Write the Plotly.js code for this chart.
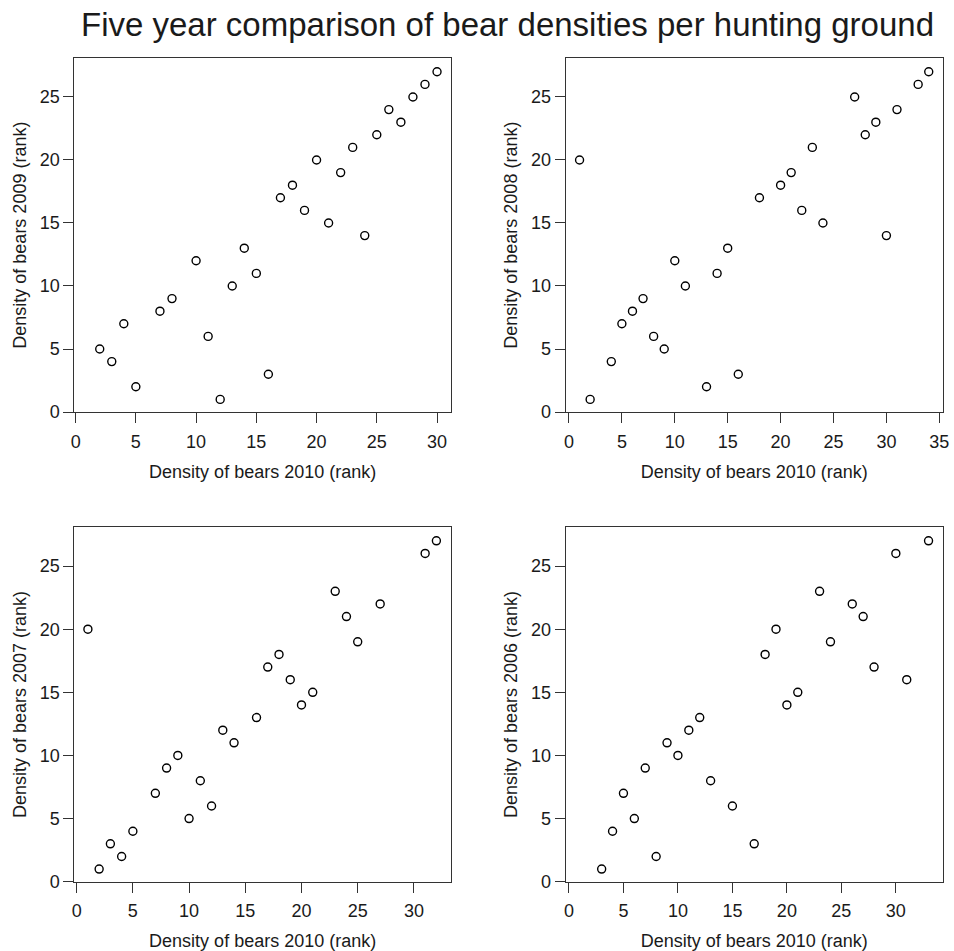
<!DOCTYPE html>
<html>
<head>
<meta charset="utf-8">
<script src="https://cdn.plot.ly/plotly-3.0.1.min.js"></script>
<style>html,body{margin:0;padding:0;background:#fff;}#chart{width:954px;height:951px;}</style>
</head>
<body>
<div id="chart"></div>
<script>
// Density ranks, 2010 (x) vs each earlier year (y)
const x2010_vs2009 = [2,3,4,5,7,8,10,11,12,13,14,15,16,17,18,19,20,21,22,23,24,25,26,27,28,29,30];
const y2009 = [5,4,7,2,8,9,12,6,1,10,13,11,3,17,18,16,20,15,19,21,14,22,24,23,25,26,27];

const x2010_vs2008 = [1,2,4,5,6,7,8,9,10,11,13,14,15,16,18,20,21,22,23,24,27,28,29,30,31,33,34];
const y2008 = [20,1,4,7,8,9,6,5,12,10,2,11,13,3,17,18,19,16,21,15,25,22,23,14,24,26,27];

const x2010_vs2007 = [1,2,3,4,5,7,8,9,10,11,12,13,14,16,17,18,19,20,21,23,24,25,27,31,32];
const y2007 = [20,1,3,2,4,7,9,10,5,8,6,12,11,13,17,18,16,14,15,23,21,19,22,26,27];

const x2010_vs2006 = [3,4,5,6,7,8,9,10,11,12,13,15,17,18,19,20,21,23,24,26,27,28,30,31,33];
const y2006 = [1,4,7,5,9,2,11,10,12,13,8,6,3,18,20,14,15,23,19,22,21,17,26,16,27];

const xTitle = "Density of bears 2010 (rank)";
const yTitles = ["Density of bears 2009 (rank)", "Density of bears 2008 (rank)",
                 "Density of bears 2007 (rank)", "Density of bears 2006 (rank)"];
const chartTitle = "Five year comparison of bear densities per hunting ground";

const FONT = '"Liberation Sans", Arial, Helvetica, sans-serif';
const INK = '#1a1a1a';

const pairs = [[x2010_vs2009, y2009], [x2010_vs2008, y2008], [x2010_vs2007, y2007], [x2010_vs2006, y2006]];
const traces = pairs.map((p, i) => ({
  type: 'scatter', mode: 'markers',
  x: p[0], y: p[1],
  xaxis: i === 0 ? 'x' : 'x' + (i + 1),
  yaxis: i === 0 ? 'y' : 'y' + (i + 1),
  marker: {symbol: 'circle-open', size: 8, color: '#000', line: {width: 1.4, color: '#000'}},
  hoverinfo: 'x+y', showlegend: false
}));

const W = 954, H = 951;
const colX = [[74.3, 451], [565.7, 942.7]];
const rowY = [[58.3, 412], [527.3, 881.7]];
const xRanges = [[-0.11, 31.16], [-0.31, 35.32], [-0.21, 33.3], [-0.3, 34.3]];
const yRange = [0, 28.07];

function axisBase() {
  return {
    showgrid: false, zeroline: false,
    showline: true, mirror: true, linecolor: '#333', linewidth: 1,
    ticks: 'outside', ticklen: 10, tickwidth: 1, tickcolor: '#333',
    tickfont: {family: FONT, size: 18, color: INK},
    dtick: 5, tick0: 0
  };
}

const layout = {
  width: W, height: H,
  paper_bgcolor: '#fff', plot_bgcolor: '#fff',
  margin: {l: 0, r: 0, t: 0, b: 0},
  font: {family: FONT, color: INK},
  title: {text: chartTitle, font: {family: FONT, size: 33, color: INK},
          x: 507.5 / W, xanchor: 'center', y: 1 - 24 / H, yanchor: 'middle', xref: 'paper', yref: 'paper'},
  showlegend: false
};

for (let i = 0; i < 4; i++) {
  const c = i % 2, r = Math.floor(i / 2);
  const xa = axisBase(), ya = axisBase();
  xa.domain = [colX[c][0] / W, colX[c][1] / W];
  ya.domain = [1 - rowY[r][1] / H, 1 - rowY[r][0] / H];
  xa.range = xRanges[i];
  ya.range = yRange;
  xa.ticklabelstandoff = 3;
  xa.title = {text: xTitle, font: {family: FONT, size: 18, color: INK}, standoff: 14};
  ya.title = {text: yTitles[i], font: {family: FONT, size: 18, color: INK}, standoff: 8};
  xa.anchor = i === 0 ? 'y' : 'y' + (i + 1);
  ya.anchor = i === 0 ? 'x' : 'x' + (i + 1);
  layout[i === 0 ? 'xaxis' : 'xaxis' + (i + 1)] = xa;
  layout[i === 0 ? 'yaxis' : 'yaxis' + (i + 1)] = ya;
}

Plotly.newPlot('chart', traces, layout, {displayModeBar: false, responsive: false});
</script>
</body>
</html>
